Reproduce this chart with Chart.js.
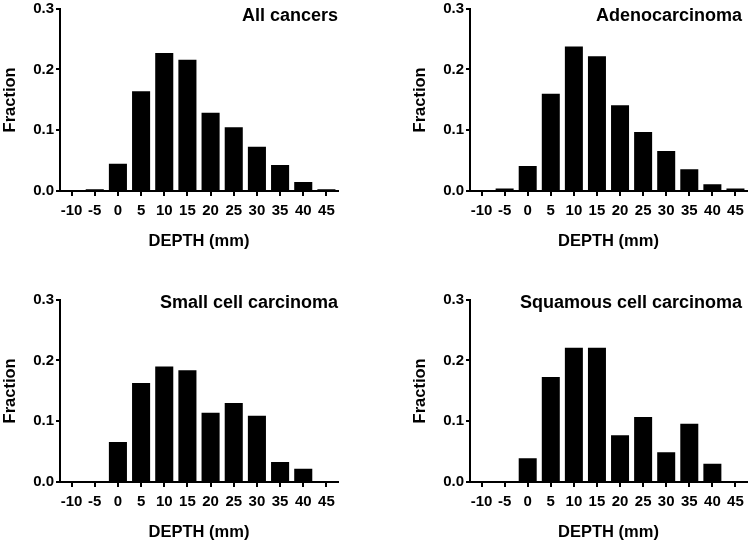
<!DOCTYPE html>
<html>
<head>
<meta charset="utf-8">
<script src="https://cdn.jsdelivr.net/npm/chart.js@4.4.1/dist/chart.umd.min.js"></script>
<style>
  html, body { margin: 0; padding: 0; background: #fff; }
  #wrap { position: relative; width: 750px; height: 542px; overflow: hidden; }
  .panel { position: absolute; }
</style>
</head>
<body>
<div id="wrap">
  <div class="panel" style="left:0;top:0;width:375px;height:251px"><canvas id="c1"></canvas></div>
  <div class="panel" style="left:410px;top:0;width:340px;height:251px"><canvas id="c2"></canvas></div>
  <div class="panel" style="left:0;top:291px;width:375px;height:251px"><canvas id="c3"></canvas></div>
  <div class="panel" style="left:410px;top:291px;width:340px;height:251px"><canvas id="c4"></canvas></div>
</div>
<script>
// Depth histograms per cancer type

const depthLabels = ["-10", "-5", "0", "5", "10", "15", "20", "25", "30", "35", "40", "45"];
const yTicks = [0, 0.1, 0.2, 0.3];

const allCancers = [0, 0.003, 0.045, 0.164, 0.227, 0.216, 0.129, 0.105, 0.073, 0.043, 0.015, 0.003];
const adenocarcinoma = [0, 0.004, 0.041, 0.160, 0.238, 0.222, 0.141, 0.097, 0.066, 0.036, 0.011, 0.004];
const smallCell = [0, 0, 0.066, 0.163, 0.190, 0.184, 0.114, 0.130, 0.109, 0.033, 0.022, 0];
const squamous = [0, 0, 0.039, 0.173, 0.221, 0.221, 0.077, 0.107, 0.049, 0.096, 0.030, 0];

const FONT = "'Liberation Sans', Arial, Helvetica, sans-serif";

// panel title drawn inside the plot, top right
const cornerTitle = {
  id: "cornerTitle",
  afterDraw(chart, args, opts) {
    const { ctx, chartArea } = chart;
    ctx.save();
    ctx.font = "bold 18px " + FONT;
    ctx.fillStyle = "#000";
    ctx.textAlign = "right";
    ctx.textBaseline = "middle";
    ctx.fillText(opts.text, chartArea.right - opts.dx, chartArea.top + opts.dy);
    ctx.restore();
  }
};

function makeChart(id, title, values, padRight, dx, dy) {
  const ctx = document.getElementById(id).getContext("2d");
  return new Chart(ctx, {
    type: "bar",
    data: {
      labels: depthLabels,
      datasets: [{
        data: values,
        backgroundColor: "#000",
        borderWidth: 0,
        barPercentage: 0.78,
        categoryPercentage: 1
      }]
    },
    options: {
      responsive: true,
      maintainAspectRatio: false,
      animation: false,
      layout: { padding: { left: 0, top: 7, right: padRight, bottom: 0 } },
      plugins: {
        legend: { display: false },
        tooltip: { enabled: false },
        cornerTitle: { text: title, dx: dx, dy: dy }
      },
      scales: {
        x: {
          offset: true,
          afterFit: (s) => { s.height = 60; },
          grid: { offset: false, drawOnChartArea: false, tickLength: 5, color: "#000", lineWidth: 2 },
          border: { display: true, color: "#000", width: 2 },
          ticks: {
            color: "#000",
            autoSkip: false,
            maxRotation: 0,
            padding: 6,
            font: { family: FONT, size: 15, weight: "bold" }
          },
          title: {
            display: true,
            text: "DEPTH (mm)",
            color: "#000",
            padding: { top: 0, bottom: 0 },
            font: { family: FONT, size: 16.5, weight: "bold" }
          }
        },
        y: {
          min: 0,
          max: 0.3,
          afterFit: (s) => { s.width = 60; },
          afterBuildTicks: (s) => { s.ticks = yTicks.map(v => ({ value: v })); },
          grid: { drawOnChartArea: false, tickLength: 4, color: "#000", lineWidth: 2 },
          border: { display: true, color: "#000", width: 2 },
          ticks: {
            color: "#000",
            padding: 2,
            font: { family: FONT, size: 15, weight: "bold", lineHeight: 0.9 },
            callback: (v) => Number(v).toFixed(1)
          },
          title: {
            display: true,
            text: "Fraction",
            color: "#000",
            padding: { top: 1, bottom: 0 },
            font: { family: FONT, size: 16.5, weight: "bold" }
          }
        }
      }
    },
    plugins: [cornerTitle]
  });
}

makeChart("c1", "All cancers", allCancers, 37, 0, 7);
makeChart("c2", "Adenocarcinoma", adenocarcinoma, 3, 5, 7);
makeChart("c3", "Small cell carcinoma", smallCell, 37, 0, 3);
makeChart("c4", "Squamous cell carcinoma", squamous, 3, 5, 3);
</script>
</body>
</html>
